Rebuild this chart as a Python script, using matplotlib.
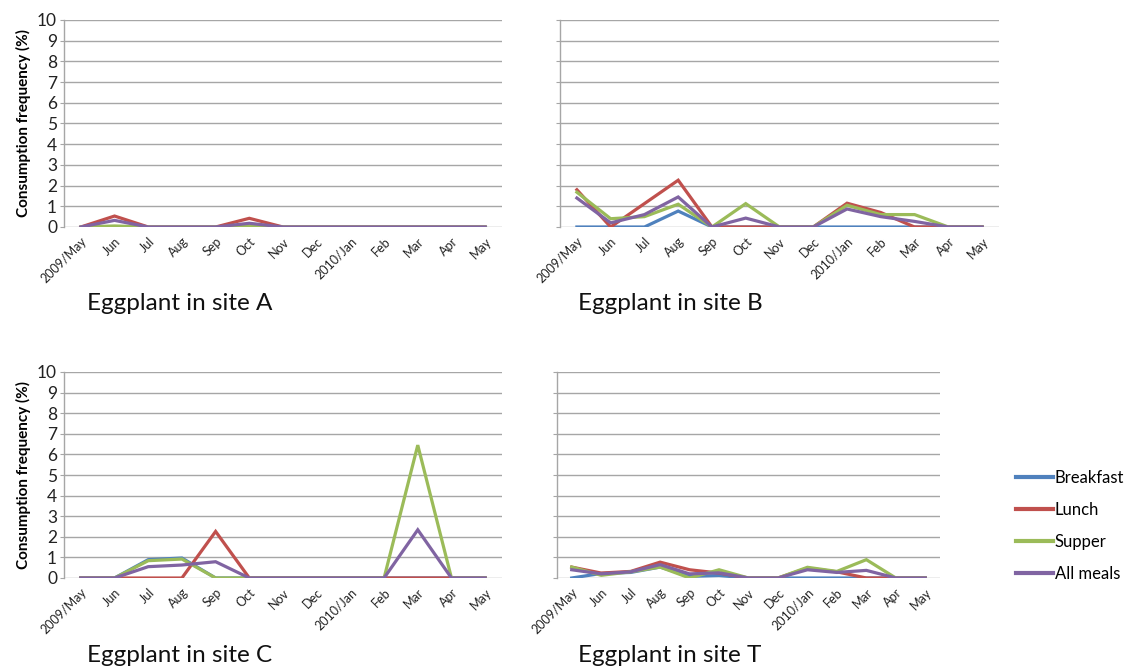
import matplotlib
matplotlib.use("Agg")
import matplotlib.pyplot as plt
from matplotlib.lines import Line2D

plt.rcParams['font.family'] = ['Lato', 'DejaVu Sans']

months = ["2009/May", "Jun", "Jul", "Aug", "Sep", "Oct", "Nov", "Dec",
          "2010/Jan", "Feb", "Mar", "Apr", "May"]
meals = ["Breakfast", "Lunch", "Supper", "All meals"]
colors = ["#4F81BD", "#C0504D", "#9BBB59", "#8064A2"]

# Consumption frequency (%) per month, by meal
site_a_breakfast = [0, 0, 0, 0, 0, 0, 0, 0, 0, 0, 0, 0, 0]
site_a_lunch     = [0, 0.53, 0, 0, 0, 0.42, 0, 0, 0, 0, 0, 0, 0]
site_a_supper    = [0, 0.05, 0, 0, 0, 0.05, 0, 0, 0, 0, 0, 0, 0]
site_a_all       = [0, 0.32, 0, 0, 0, 0.18, 0, 0, 0, 0, 0, 0, 0]

site_b_breakfast = [0, 0, 0, 0.77, 0, 0, 0, 0, 0, 0, 0, 0, 0]
site_b_lunch     = [1.8, 0, 1.13, 2.26, 0, 0, 0, 0, 1.15, 0.7, 0, 0, 0]
site_b_supper    = [1.68, 0.4, 0.5, 1.1, 0, 1.13, 0, 0, 1.05, 0.6, 0.6, 0, 0]
site_b_all       = [1.4, 0.2, 0.6, 1.45, 0, 0.43, 0, 0, 0.87, 0.5, 0.27, 0, 0]

site_c_breakfast = [0, 0, 0.89, 0.97, 0, 0, 0, 0, 0, 0, 0, 0, 0]
site_c_lunch     = [0, 0, 0, 0, 2.26, 0, 0, 0, 0, 0, 0, 0, 0]
site_c_supper    = [0, 0, 0.84, 0.92, 0, 0, 0, 0, 0, 0, 6.45, 0, 0]
site_c_all       = [0, 0, 0.55, 0.63, 0.79, 0, 0, 0, 0, 0, 2.34, 0, 0]

site_t_breakfast = [0, 0.22, 0.27, 0.53, 0.08, 0.12, 0, 0, 0, 0, 0, 0, 0]
site_t_lunch     = [0.53, 0.24, 0.32, 0.77, 0.4, 0.24, 0, 0, 0.48, 0.3, 0, 0, 0]
site_t_supper    = [0.53, 0.13, 0.3, 0.53, 0, 0.4, 0, 0, 0.52, 0.32, 0.89, 0, 0]
site_t_all       = [0.4, 0.2, 0.3, 0.65, 0.2, 0.25, 0, 0, 0.4, 0.27, 0.37, 0, 0]

sites = ["A", "B", "C", "T"]
site_series = {
    "A": [site_a_breakfast, site_a_lunch, site_a_supper, site_a_all],
    "B": [site_b_breakfast, site_b_lunch, site_b_supper, site_b_all],
    "C": [site_c_breakfast, site_c_lunch, site_c_supper, site_c_all],
    "T": [site_t_breakfast, site_t_lunch, site_t_supper, site_t_all],
}

W, H = 1128, 668
fig = plt.figure(figsize=(W / 100, H / 100), dpi=100)


def px_rect(left, top, right, bottom):
    return [left / W, 1 - bottom / H, (right - left) / W, (bottom - top) / H]


rects = {
    "A": px_rect(64, 20, 502, 227),
    "B": px_rect(560, 20, 999, 227),
    "C": px_rect(64, 372, 502, 578),
    "T": px_rect(557, 372, 940, 578),
}
title_pos = {"A": (87, 303), "B": (578, 303), "C": (87, 655), "T": (578, 655)}

grid_color = "#A6A6A6"
x = list(range(len(months)))

for site in sites:
    ax = fig.add_axes(rects[site])
    for vals, c, name in zip(site_series[site], colors, meals):
        ax.plot(x, vals, color=c, lw=2.3, label=name, solid_joinstyle="miter")
    ax.set_xlim(-0.5, len(months) - 0.5)
    ax.set_ylim(0, 10)
    ax.set_yticks(range(0, 11))
    ax.yaxis.grid(True, color=grid_color, lw=1.0)
    ax.set_axisbelow(True)
    for s in ("top", "right", "bottom"):
        ax.spines[s].set_visible(False)
    ax.spines["left"].set_color(grid_color)
    ax.spines["left"].set_linewidth(1.0)
    ax.set_xticks(x)
    ax.set_xticklabels(months, rotation=45, ha="right", rotation_mode="anchor",
                       fontsize=9, color="#222222")
    ax.tick_params(axis="x", length=0, pad=6)
    ax.tick_params(axis="y", length=3, color=grid_color, labelsize=12.5,
                   labelcolor="#222222", pad=2)
    if site in ("A", "C"):
        ax.set_ylabel("Consumption frequency (%)", fontsize=11,
                      fontweight="bold", labelpad=4)
    else:
        ax.set_yticklabels([])
    tx, ty = title_pos[site]
    fig.text(tx / W, 1 - ty / H, f"Eggplant in site {site}", fontsize=17.5,
             ha="left", va="center", color="#111111")

handles = [Line2D([0], [0], color=c, lw=3.0) for c in colors]
fig.legend(handles, meals, loc="center left",
           bbox_to_anchor=(1016 / W, 1 - 526 / H), frameon=False,
           fontsize=12, handlelength=2.2, handletextpad=0.12,
           labelspacing=0.95, borderaxespad=0, borderpad=0)

fig.savefig("out.png", dpi=100)
